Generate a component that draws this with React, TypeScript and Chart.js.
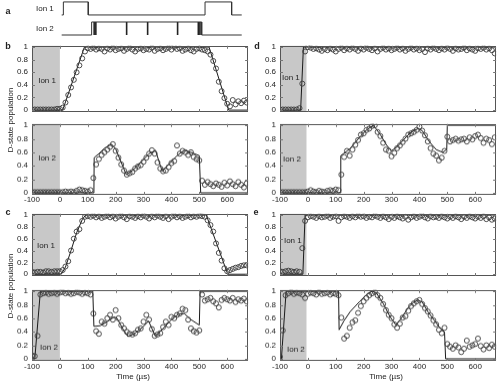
import React, { useEffect, useRef } from 'react';
import { Chart, registerables } from 'chart.js';

Chart.register(...registerables);

const FONT = '"Liberation Sans", Arial, Helvetica, sans-serif';

// ---------------- data ----------------
const times = [-100, -90, -80, -70, -60, -50, -40, -30, -20, -10, 0, 10, 20, 30, 40, 50, 60, 70, 80, 90,
  100, 110, 120, 130, 140, 150, 160, 170, 180, 190, 200, 210, 220, 230, 240, 250, 260, 270, 280, 290,
  300, 310, 320, 330, 340, 350, 360, 370, 380, 390, 400, 410, 420, 430, 440, 450, 460, 470, 480, 490,
  500, 510, 520, 530, 540, 550, 560, 570, 580, 590, 600, 610, 620, 630, 640, 650, 660, 670];

const xTickValues = [-100, 0, 100, 200, 300, 400, 500, 600];
const xTickLabels = ['-100', '0', '100', '200', '300', '400', '500', '600'];
const yTickValues = [0, 0.2, 0.4, 0.6, 0.8, 1];
const yTickLabels = ['0', '0.2', '0.4', '0.6', '0.8', '1'];

// panel a: pulse sequence
const ion1SeqTimes = [6, 12, 12, 101, 101, 518, 518, 613, 613, 649];
const ion1SeqLevels = [0, 0, 1, 1, 0, 0, 1, 1, 0, 0];
const ion2SeqTimes = [6, 113, 113, 506, 506, 649];
const ion2SeqLevels = [0, 0, 1, 1, 0, 0];
const ion2PulseTimes = [122, 128, 238, 313, 420, 494, 500];

// panel b
const bIon1 = [
  0.01, 0.01, 0.01, 0.01, 0.01, 0.01, 0.01, 0.01, 0.01, 0.02,
  0.02, 0.04, 0.12, 0.24, 0.36, 0.48, 0.6, 0.71, 0.82, 0.93,
  0.98, 0.97, 0.99, 0.96, 0.98, 0.97, 0.93, 0.98, 0.96, 0.99,
  0.95, 0.97, 0.98, 0.94, 0.97, 0.99, 0.96, 0.93, 0.97, 0.98,
  0.95, 0.97, 0.96, 0.99, 0.94, 0.97, 0.98, 0.95, 0.97, 0.99,
  0.96, 1.0, 0.97, 0.98, 0.94, 0.96, 0.98, 0.95, 0.93, 0.97,
  0.98, 0.96, 0.95, 0.93, 0.88, 0.78, 0.66, 0.45, 0.3, 0.19,
  0.1, 0.06, 0.16, 0.09, 0.14, 0.11, 0.15, 0.12];
const bIon1FitT = [-100, 10, 88, 535, 605, 675];
const bIon1FitV = [0, 0, 1, 1, 0, 0];

const bIon2 = [
  0.01, 0.01, 0.01, 0.01, 0.01, 0.01, 0.01, 0.01, 0.01, 0.01,
  0.01, 0.01, 0.02, 0.01, 0.02, 0.01, 0.03, 0.05, 0.04, 0.03,
  0.02, 0.04, 0.22, 0.42, 0.5, 0.56, 0.6, 0.64, 0.68, 0.72,
  0.62, 0.52, 0.42, 0.33, 0.27, 0.29, 0.31, 0.36, 0.39, 0.41,
  0.46, 0.52, 0.58, 0.63, 0.58, 0.45, 0.36, 0.32, 0.33, 0.38,
  0.44, 0.47, 0.7, 0.58, 0.62, 0.6, 0.56, 0.6, 0.53, 0.5,
  0.48, 0.18, 0.12, 0.16, 0.13, 0.1, 0.14, 0.12, 0.09, 0.15,
  0.11, 0.17, 0.13, 0.1, 0.16, 0.12, 0.08, 0.14];
const bIon2FitT = [-100, 122, 123, 140, 160, 185, 200, 220, 238, 260, 290, 320, 343, 355, 367, 390, 420, 446, 470, 500, 505, 675];
const bIon2FitV = [0, 0, 0.52, 0.58, 0.66, 0.72, 0.65, 0.45, 0.27, 0.33, 0.45, 0.58, 0.63, 0.47, 0.32, 0.42, 0.55, 0.63, 0.6, 0.55, 0, 0];

// panel c
const cIon1 = [
  0.04, 0.03, 0.04, 0.04, 0.03, 0.05, 0.05, 0.04, 0.05, 0.05,
  0.05, 0.07, 0.13, 0.22, 0.4, 0.6, 0.72, 0.76, 0.9, 0.97,
  0.98, 0.97, 0.99, 0.96, 0.98, 0.95, 0.97, 0.99, 0.96, 0.98,
  0.94, 0.97, 0.99, 0.96, 0.93, 0.98, 0.97, 0.95, 0.98, 0.96,
  0.99, 0.97, 0.94, 0.98, 0.96, 0.99, 0.97, 0.95, 0.98, 0.93,
  0.97, 0.99, 0.96, 0.98, 0.95, 0.97, 0.99, 0.96, 0.98, 0.97,
  0.99, 0.98, 0.97, 0.91, 0.83, 0.72, 0.52, 0.36, 0.23, 0.1,
  0.05, 0.07, 0.09, 0.11, 0.12, 0.14, 0.15, 0.15];
const cIon1FitT = [-100, 5, 20, 40, 60, 80, 92, 525, 602, 675];
const cIon1FitV = [0, 0, 0.12, 0.4, 0.7, 0.92, 1, 1, 0, 0];

const cIon2 = [
  0.05, 0.04, 0.34, 0.95, 0.97, 0.98, 0.96, 0.97, 0.98, 0.96,
  0.98, 0.99, 0.97, 0.98, 0.96, 0.97, 0.99, 0.98, 0.96, 0.98,
  0.97, 0.95, 0.67, 0.41, 0.37, 0.55, 0.52, 0.6, 0.65, 0.58,
  0.72, 0.6, 0.5, 0.45, 0.4, 0.37, 0.36, 0.38, 0.43, 0.45,
  0.55, 0.65, 0.58, 0.44, 0.34, 0.36, 0.38, 0.47, 0.55, 0.5,
  0.62, 0.6, 0.65, 0.67, 0.74, 0.72, 0.58, 0.45, 0.41, 0.39,
  0.42, 0.95, 0.86, 0.88, 0.9, 0.85, 0.82, 0.76, 0.87, 0.9,
  0.88, 0.86, 0.9, 0.84, 0.88, 0.86, 0.89, 0.85];
const cIon2FitT = [-100, -90, -70, 118, 122, 145, 170, 195, 205, 225, 244, 270, 300, 318, 343, 370, 400, 425, 446, 470, 500, 503, 675];
const cIon2FitV = [0, 0, 1, 1, 0.48, 0.49, 0.55, 0.62, 0.6, 0.45, 0.33, 0.38, 0.48, 0.56, 0.33, 0.45, 0.58, 0.66, 0.67, 0.58, 0.5, 1, 1];

// panel d
const dIon1 = [
  0.01, 0.01, 0.01, 0.01, 0.01, 0.01, 0.01, 0.03, 0.42, 0.93,
  1.0, 0.99, 0.97, 0.98, 0.96, 0.94, 0.97, 0.95, 0.98, 0.96,
  0.93, 0.97, 0.99, 0.95, 0.98, 0.96, 0.99, 0.97, 0.94, 0.98,
  0.96, 0.99, 0.97, 0.95, 0.98, 0.93, 0.97, 0.99, 0.96, 0.98,
  0.95, 0.97, 0.99, 0.96, 0.98, 0.94, 0.97, 0.99, 0.96, 0.98,
  0.95, 0.97, 0.92, 0.98, 0.96, 0.99, 0.97, 0.95, 0.98, 0.96,
  0.99, 0.97, 0.94, 0.98, 0.96, 0.97, 0.99, 0.95, 0.98, 0.96,
  0.94, 0.98, 0.97, 0.99, 0.96, 0.98, 0.95, 0.9];
const dIon1FitT = [-100, -26, -16, 675];
const dIon1FitV = [0, 0, 1, 1];

const dIon2 = [
  0.01, 0.01, 0.01, 0.01, 0.01, 0.01, 0.01, 0.01, 0.01, 0.01,
  0.02, 0.04, 0.02, 0.01, 0.03, 0.02, 0.01, 0.03, 0.04, 0.03,
  0.05, 0.04, 0.27, 0.53, 0.62, 0.55, 0.64, 0.71, 0.78, 0.86,
  0.88, 0.93, 0.95, 0.99, 1.0, 0.9, 0.84, 0.74, 0.64, 0.62,
  0.54, 0.59, 0.66, 0.7, 0.75, 0.8, 0.86, 0.88, 0.9, 0.93,
  0.98, 0.92, 0.85, 0.76, 0.66, 0.58, 0.55, 0.48, 0.52, 0.62,
  0.83, 0.76, 0.78, 0.8, 0.77, 0.79, 0.8, 0.76, 0.82, 0.79,
  0.84, 0.86, 0.81, 0.74, 0.8, 0.78, 0.72, 0.82];
const dIon2FitT = [-100, 117, 118, 150, 185, 210, 235, 260, 280, 299, 320, 342, 370, 395, 410, 435, 460, 483, 498, 500, 675];
const dIon2FitV = [0, 0, 0.55, 0.65, 0.82, 0.93, 1.0, 0.86, 0.72, 0.62, 0.68, 0.78, 0.9, 0.95, 0.92, 0.76, 0.64, 0.6, 0.64, 1, 1];

// panel e
const eIon1 = [
  0.05, 0.04, 0.05, 0.06, 0.05, 0.04, 0.05, 0.04, 0.44, 0.9,
  0.96, 0.98, 0.97, 0.95, 0.98, 0.96, 0.97, 0.99, 0.95, 0.97,
  0.98, 0.9, 0.96, 0.98, 0.97, 0.95, 0.98, 0.96, 0.99, 0.97,
  0.98, 0.95, 0.97, 0.96, 0.99, 0.97, 0.95, 0.98, 0.96, 0.93,
  0.97, 0.95, 0.98, 0.96, 0.94, 0.97, 0.92, 0.96, 0.98, 0.95,
  0.97, 0.99, 0.96, 0.94, 0.98, 0.96, 0.97, 0.95, 0.98, 0.96,
  0.94, 0.97, 0.95, 0.98, 0.96, 0.93, 0.97, 0.95, 0.98, 0.96,
  0.94, 0.97, 0.95, 0.98, 0.93, 0.96, 0.92, 0.94];
const eIon1FitT = [-100, -18, -10, 675];
const eIon1FitV = [0, 0, 1, 1];

const eIon2 = [
  0.03, 0.42, 0.94, 0.97, 0.99, 0.96, 0.98, 0.97, 0.95, 0.9,
  0.96, 0.98, 0.97, 0.95, 0.99, 0.96, 0.97, 0.98, 0.95, 0.97,
  0.96, 0.94, 0.61, 0.3, 0.34, 0.46, 0.54, 0.57, 0.68, 0.78,
  0.85, 0.9, 0.94, 0.97, 0.99, 0.94, 0.9, 0.81, 0.72, 0.65,
  0.6, 0.51, 0.46, 0.52, 0.61, 0.63, 0.71, 0.78, 0.82, 0.85,
  0.87, 0.81, 0.75, 0.7, 0.64, 0.57, 0.51, 0.43, 0.38, 0.46,
  0.22, 0.18, 0.15, 0.2, 0.17, 0.1, 0.15, 0.27, 0.18, 0.2,
  0.22, 0.3, 0.19, 0.14, 0.2, 0.16, 0.21, 0.18];
const eIon2FitT = [-100, -95, -78, 110, 112, 129, 152, 186, 210, 230, 245, 270, 295, 316, 335, 360, 380, 395, 410, 430, 455, 475, 490, 494, 675];
const eIon2FitV = [0, 0, 1, 1, 0.43, 0.56, 0.7, 0.85, 0.95, 1.0, 0.98, 0.82, 0.62, 0.5, 0.6, 0.76, 0.84, 0.87, 0.84, 0.7, 0.56, 0.45, 0.4, 0, 0];

// ---------------- layout / style ----------------
const X_MIN = -100;
const X_MAX = 675;
const Y_MIN = -0.03;
const Y_MAX = 1.02;
const YW = 30;
const PT = 6;
const PR = 4;

type Spec = {
  left: number; top: number; width: number; height: number; showX: boolean;
  values: number[]; fitT: number[]; fitV: number[];
  label: string; labelT: number; labelV: number; shadeEnd: number; xPad: number;
};

const LEFT_X = 32;
const RIGHT_X = 280;
const PW = 217;

const panels: Spec[] = [
  { left: LEFT_X, top: 43, width: PW, height: 75, showX: false, values: bIon1, fitT: bIon1FitT, fitV: bIon1FitV, label: 'Ion 1', labelT: -46, labelV: 0.47, shadeEnd: 0, xPad: 0 },
  { left: LEFT_X, top: 121, width: PW, height: 73.5, showX: true, values: bIon2, fitT: bIon2FitT, fitV: bIon2FitV, label: 'Ion 2', labelT: -46, labelV: 0.51, shadeEnd: 0, xPad: 0 },
  { left: LEFT_X, top: 211, width: PW, height: 71, showX: false, values: cIon1, fitT: cIon1FitT, fitV: cIon1FitV, label: 'Ion 1', labelT: -50, labelV: 0.48, shadeEnd: 0, xPad: 0 },
  { left: LEFT_X, top: 287, width: PW, height: 73.5, showX: true, values: cIon2, fitT: cIon2FitT, fitV: cIon2FitV, label: 'Ion 2', labelT: -39, labelV: 0.17, shadeEnd: 0, xPad: 1 },
  { left: RIGHT_X, top: 43, width: PW, height: 75, showX: false, values: dIon1, fitT: dIon1FitT, fitV: dIon1FitV, label: 'Ion 1', labelT: -61, labelV: 0.51, shadeEnd: -5, xPad: 0 },
  { left: RIGHT_X, top: 121, width: PW, height: 73.5, showX: true, values: dIon2, fitT: dIon2FitT, fitV: dIon2FitV, label: 'Ion 2', labelT: -57, labelV: 0.49, shadeEnd: -5, xPad: 0 },
  { left: RIGHT_X, top: 211, width: PW, height: 71, showX: false, values: eIon1, fitT: eIon1FitT, fitV: eIon1FitV, label: 'Ion 1', labelT: -54, labelV: 0.56, shadeEnd: -5, xPad: 0 },
  { left: RIGHT_X, top: 287, width: PW, height: 73.5, showX: true, values: eIon2, fitT: eIon2FitT, fitV: eIon2FitV, label: 'Ion 2', labelT: -43, labelV: 0.14, shadeEnd: -5, xPad: 1 },
];

function makePanelPlugin(spec: Spec) {
  return {
    id: 'panelFrame',
    beforeDatasetsDraw(chart: any) {
      const { ctx, chartArea: a, scales } = chart;
      const x0 = Math.max(a.left, scales.x.getPixelForValue(X_MIN));
      const x1 = scales.x.getPixelForValue(spec.shadeEnd);
      ctx.save();
      ctx.fillStyle = '#c8c8c8';
      ctx.fillRect(x0, a.top, x1 - x0, a.bottom - a.top);
      ctx.restore();
    },
    afterDatasetsDraw(chart: any) {
      const { ctx, scales } = chart;
      ctx.save();
      ctx.fillStyle = '#222';
      ctx.font = `8px ${FONT}`;
      ctx.textAlign = 'center';
      ctx.textBaseline = 'middle';
      ctx.fillText(spec.label, scales.x.getPixelForValue(spec.labelT), scales.y.getPixelForValue(spec.labelV));
      ctx.restore();
    },
    afterDraw(chart: any) {
      const { ctx, chartArea: a, scales } = chart;
      ctx.save();
      ctx.strokeStyle = '#555';
      ctx.lineWidth = 1;
      ctx.strokeRect(Math.round(a.left) + 0.5, Math.round(a.top) + 0.5, Math.round(a.right - a.left) - 1, Math.round(a.bottom - a.top) - 1);
      ctx.strokeStyle = '#777';
      ctx.beginPath();
      for (const v of xTickValues) {
        if (v <= X_MIN) continue;
        const px = Math.round(scales.x.getPixelForValue(v)) + 0.5;
        ctx.moveTo(px, a.bottom); ctx.lineTo(px, a.bottom - 3);
        ctx.moveTo(px, a.top); ctx.lineTo(px, a.top + 3);
      }
      for (const v of yTickValues) {
        const py = Math.round(scales.y.getPixelForValue(v)) + 0.5;
        ctx.moveTo(a.left, py); ctx.lineTo(a.left + 3, py);
        ctx.moveTo(a.right, py); ctx.lineTo(a.right - 3, py);
      }
      ctx.stroke();
      ctx.restore();
    },
  };
}

function Panel({ spec }: { spec: Spec }) {
  const ref = useRef<HTMLCanvasElement>(null);
  const XH = spec.showX ? 14 : 6;
  const cw = spec.width + YW + PR;
  const ch = spec.height + PT + XH;
  useEffect(() => {
    if (!ref.current) return;
    const pts = times.map((t, i) => ({ x: t, y: spec.values[i] }));
    const fit = spec.fitT.map((t, i) => ({ x: t, y: spec.fitV[i] }));
    const chart = new Chart(ref.current, {
      type: 'scatter',
      data: {
        datasets: [
          { type: 'line', data: fit, borderColor: '#1a1a1a', borderWidth: 1, pointRadius: 0, fill: false, tension: 0, order: 2 } as any,
          { type: 'scatter', data: pts, pointRadius: 2.5, borderColor: '#3a3a3a', borderWidth: 0.9, backgroundColor: 'rgba(255,255,255,0)', order: 1 } as any,
        ],
      },
      options: {
        animation: false,
        responsive: false,
        maintainAspectRatio: false,
        events: [],
        layout: { padding: { left: 0, top: PT, right: PR, bottom: spec.showX ? 0 : XH } },
        plugins: { legend: { display: false }, tooltip: { enabled: false } },
        scales: {
          x: {
            type: 'linear', min: X_MIN, max: X_MAX, display: spec.showX,
            grid: { display: false, drawTicks: false }, border: { display: false },
            ticks: {
              autoSkip: false, maxRotation: 0, padding: spec.xPad, color: '#222',
              font: { size: 8, family: FONT },
              callback: (_v: any, i: number) => xTickLabels[i],
            },
            afterBuildTicks: (s: any) => { s.ticks = xTickValues.map((v) => ({ value: v })); },
            afterFit: (s: any) => { s.height = XH; },
          },
          y: {
            type: 'linear', min: Y_MIN, max: Y_MAX,
            grid: { display: false, drawTicks: false }, border: { display: false },
            ticks: {
              autoSkip: false, padding: 4, color: '#222',
              font: { size: 8, family: FONT },
              callback: (_v: any, i: number) => yTickLabels[i],
            },
            afterBuildTicks: (s: any) => { s.ticks = yTickValues.map((v) => ({ value: v })); },
            afterFit: (s: any) => { s.width = YW; },
          },
        },
      } as any,
      plugins: [makePanelPlugin(spec)],
    });
    return () => chart.destroy();
  }, []);
  return (
    <canvas ref={ref} width={cw} height={ch}
      style={{ position: 'absolute', left: spec.left - YW, top: spec.top - PT, width: cw, height: ch }} />
  );
}

const ION1_OFFSET = 1.54;

function SequencePanel() {
  const ref = useRef<HTMLCanvasElement>(null);
  useEffect(() => {
    if (!ref.current) return;
    const ion1 = ion1SeqTimes.map((t, i) => ({ x: t, y: ion1SeqLevels[i] + ION1_OFFSET }));
    const ion2 = ion2SeqTimes.map((t, i) => ({ x: t, y: ion2SeqLevels[i] }));
    const pulses: any[] = [];
    ion2PulseTimes.forEach((t) => {
      pulses.push({ x: t, y: 1 }, { x: t, y: 0 }, { x: t, y: null });
    });
    const labelPlugin = {
      id: 'seqLabels',
      afterDatasetsDraw(chart: any) {
        const { ctx, scales } = chart;
        ctx.save();
        ctx.fillStyle = '#222';
        ctx.font = `8px ${FONT}`;
        ctx.textAlign = 'center';
        ctx.textBaseline = 'middle';
        ctx.fillText('Ion 1', scales.x.getPixelForValue(-54), scales.y.getPixelForValue(2.0));
        ctx.fillText('Ion 2', scales.x.getPixelForValue(-54), scales.y.getPixelForValue(0.46));
        ctx.restore();
      },
    };
    const chart = new Chart(ref.current, {
      type: 'scatter',
      data: {
        datasets: [
          { data: ion1, showLine: true, borderColor: '#333', borderWidth: 1, pointRadius: 0, tension: 0 } as any,
          { data: ion2, showLine: true, borderColor: '#333', borderWidth: 1, pointRadius: 0, tension: 0 } as any,
          { data: pulses, showLine: true, spanGaps: false, borderColor: '#222', borderWidth: 1.6, pointRadius: 0, tension: 0 } as any,
        ],
      },
      options: {
        animation: false, responsive: false, maintainAspectRatio: false, events: [],
        layout: { padding: { left: 0, top: 0, right: 0, bottom: 2 } },
        plugins: { legend: { display: false }, tooltip: { enabled: false } },
        scales: {
          x: { type: 'linear', min: X_MIN, max: X_MAX, display: false },
          y: { type: 'linear', min: -0.23, max: 2.69, display: false },
        },
      } as any,
      plugins: [labelPlugin],
    });
    return () => chart.destroy();
  }, []);
  return <canvas ref={ref} width={PW} height={40} style={{ position: 'absolute', left: LEFT_X, top: 0, width: PW, height: 40 }} />;
}

function Txt({ x, y, text, bold, rotate, size }: { x: number; y: number; text: string; bold?: boolean; rotate?: boolean; size?: number }) {
  return (
    <div style={{
      position: 'absolute', left: x, top: y, whiteSpace: 'nowrap', lineHeight: 1,
      fontSize: size || 8, fontWeight: bold ? 'bold' : 'normal', fontFamily: FONT, color: '#222',
      transform: `translate(-50%, -50%)${rotate ? ' rotate(-90deg)' : ''}`,
    }}>{text}</div>
  );
}

export default function App() {
  return (
    <div style={{ position: 'absolute', left: 0, top: 0, width: 500, height: 383, background: '#fff', overflow: 'hidden' }}>
      <SequencePanel />
      {panels.map((p, i) => <Panel key={i} spec={p} />)}
      <Txt x={8} y={11} text="a" bold size={9} />
      <Txt x={8} y={46} text="b" bold size={9} />
      <Txt x={8} y={212} text="c" bold size={9} />
      <Txt x={257} y={46} text="d" bold size={9} />
      <Txt x={256} y={212} text="e" bold size={9} />
      <Txt x={11} y={120} text="D-state population" rotate />
      <Txt x={11} y={286} text="D-state population" rotate />
      <Txt x={133} y={377} text="Time (µs)" />
      <Txt x={386} y={377} text="Time (µs)" />
    </div>
  );
}
